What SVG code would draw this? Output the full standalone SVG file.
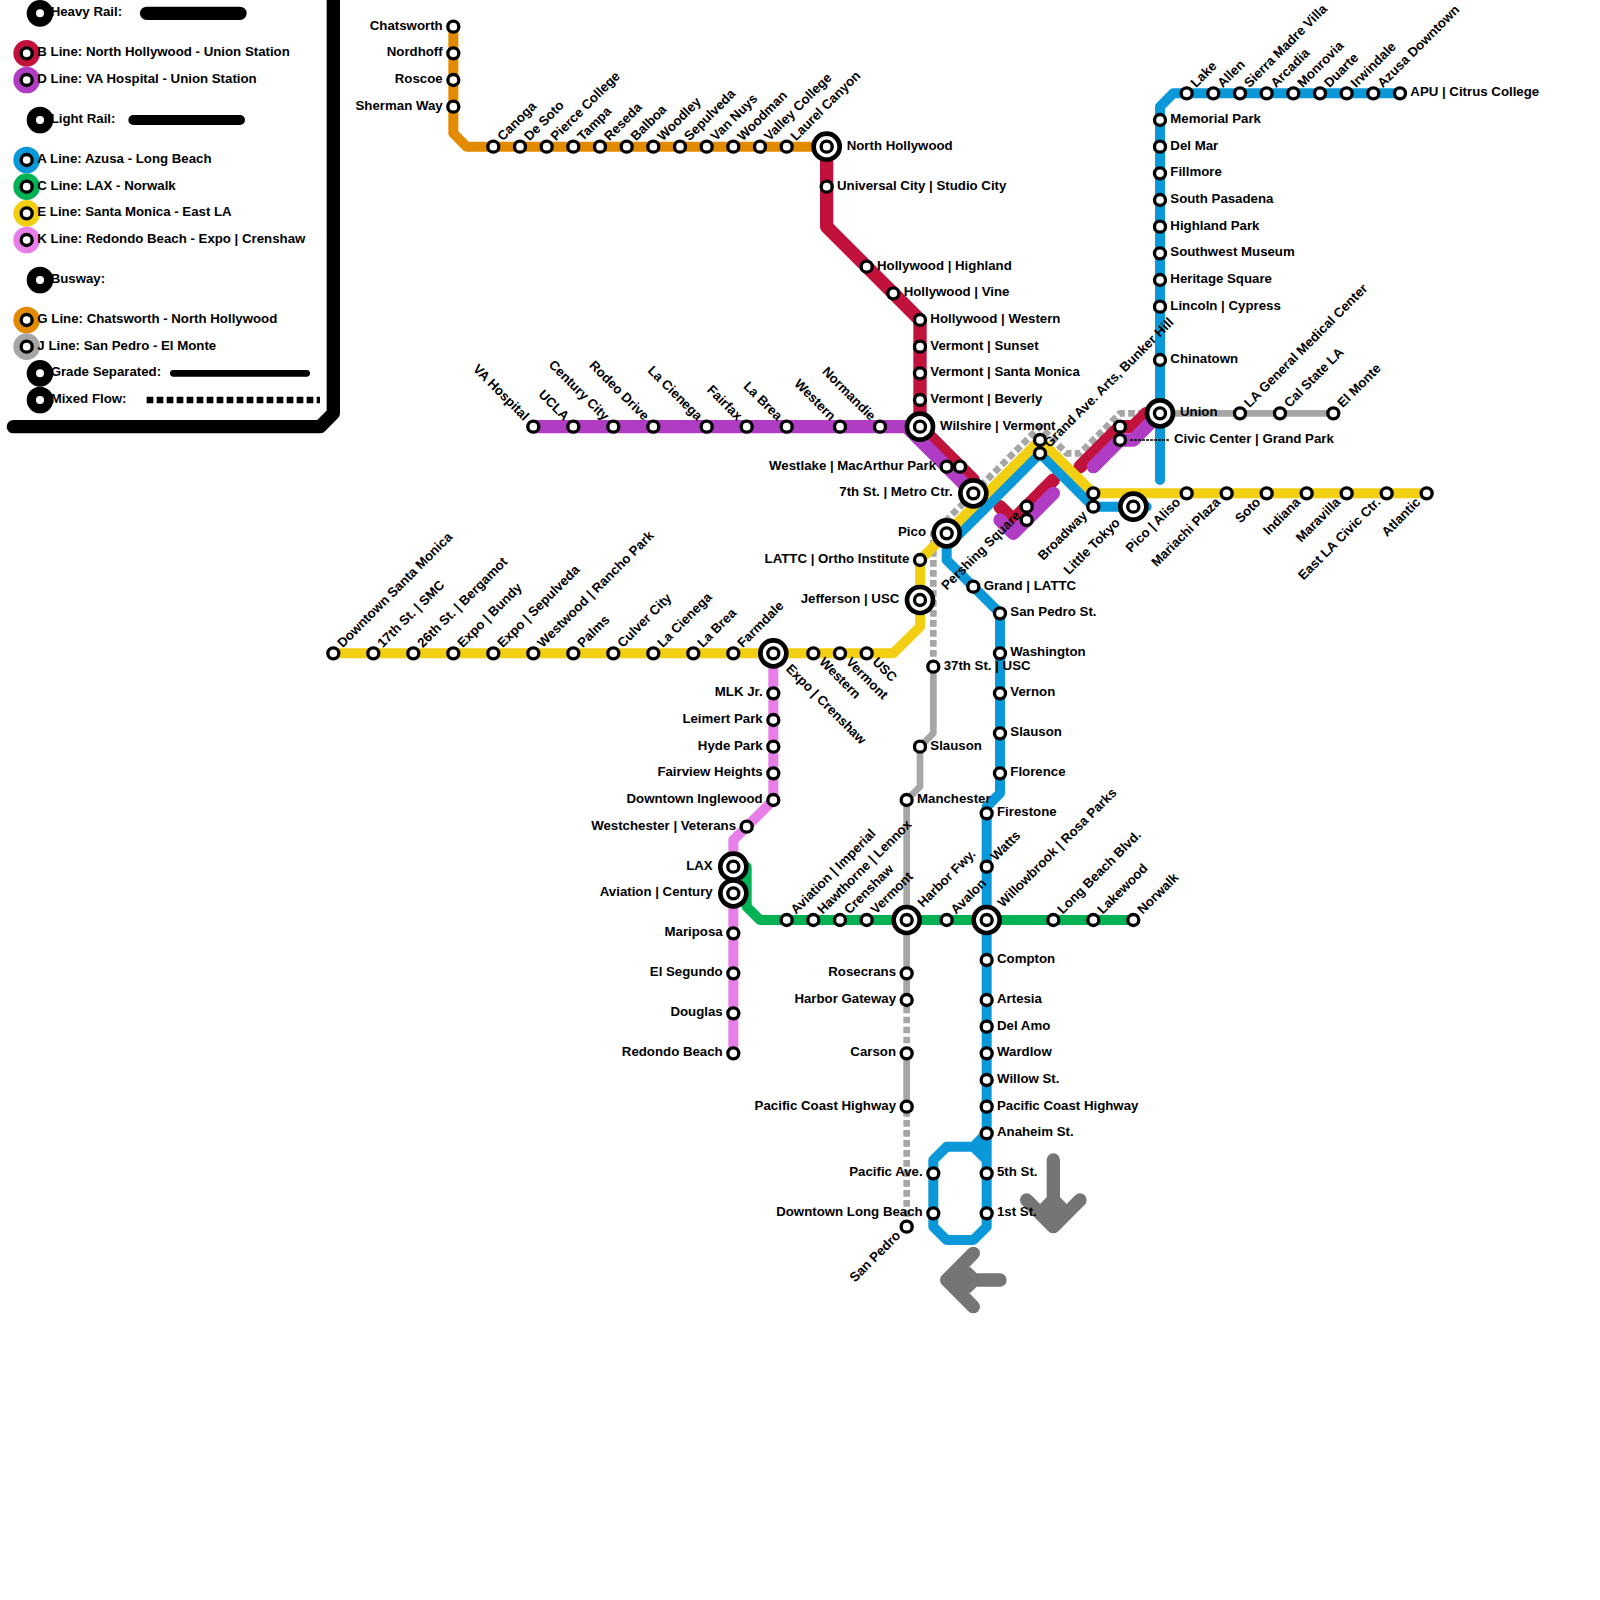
<svg xmlns="http://www.w3.org/2000/svg" width="1600" height="1600" viewBox="0 0 1600 1600">
<style>
text{font-family:"Liberation Sans",Arial,sans-serif;font-size:13.25px;font-weight:700;fill:#000}
.e{text-anchor:end}
.ln{fill:none;stroke-linecap:round;stroke-linejoin:round}
.hv{stroke-width:13.33}.lt{stroke-width:10}.bw{stroke-width:6.67}
.ds{stroke-dasharray:6.67 3.33;stroke-linecap:butt}
.b{stroke:#c1123c}.d{stroke:#b03cc4}.a{stroke:#0a98d9}.c{stroke:#00b254}.y{stroke:#f2cf12}.k{stroke:#e87fe8}.g{stroke:#e38b00}.j{stroke:#a6a6a6}
.ar{stroke:#757575;stroke-width:13.33}
.bk{stroke:#000}
.so{fill:#fff;stroke:#000;stroke-width:3.33}
.so2{fill:#fff;stroke:#000;stroke-width:4.67}
</style>
<defs>
<g id="st"><circle r="5.5" class="so"/></g>
<g id="ix"><circle r="13" class="so2"/><circle r="5.5" class="so"/></g>
<g id="big"><circle r="13.33" fill="#000"/><circle r="4" fill="#fff"/></g>
<g id="sm"><circle r="5.5" class="so"/></g>
</defs>
<g id="legend">
<path class="ln bk hv" d="M13.33 426.67H320L333.33 413.33V-10"/>
<path class="ln bk hv" d="M146.67 13.33H240"/>
<path class="ln bk lt" d="M133.33 120H240"/>
<path class="ln bk bw" d="M173.33 373.33H306.67"/>
<path class="ln bk bw ds" d="M146.67 400H320"/>
<g id="lg-heavy"><use href="#big" x="40" y="13.33"/><text x="50.67" y="16.33">Heavy Rail:</text></g>
<g id="lg-b"><circle cx="26.67" cy="53.33" r="13.33" fill="#c1123c"/><use href="#sm" x="26.67" y="53.33"/><text x="37.33" y="56.33">B Line: North Hollywood - Union Station</text></g>
<g id="lg-d"><circle cx="26.67" cy="80" r="13.33" fill="#b03cc4"/><use href="#sm" x="26.67" y="80"/><text x="37.33" y="83">D Line: VA Hospital - Union Station</text></g>
<g id="lg-light"><use href="#big" x="40" y="120"/><text x="50.67" y="123">Light Rail:</text></g>
<g id="lg-a"><circle cx="26.67" cy="160" r="13.33" fill="#0a98d9"/><use href="#sm" x="26.67" y="160"/><text x="37.33" y="163">A Line: Azusa - Long Beach</text></g>
<g id="lg-c"><circle cx="26.67" cy="186.67" r="13.33" fill="#00b254"/><use href="#sm" x="26.67" y="186.67"/><text x="37.33" y="189.67">C Line: LAX - Norwalk</text></g>
<g id="lg-e"><circle cx="26.67" cy="213.33" r="13.33" fill="#f2cf12"/><use href="#sm" x="26.67" y="213.33"/><text x="37.33" y="216.33">E Line: Santa Monica - East LA</text></g>
<g id="lg-k"><circle cx="26.67" cy="240" r="13.33" fill="#e87fe8"/><use href="#sm" x="26.67" y="240"/><text x="37.33" y="243">K Line: Redondo Beach - Expo | Crenshaw</text></g>
<g id="lg-busway"><use href="#big" x="40" y="280"/><text x="50.67" y="283">Busway:</text></g>
<g id="lg-g"><circle cx="26.67" cy="320" r="13.33" fill="#e38b00"/><use href="#sm" x="26.67" y="320"/><text x="37.33" y="323">G Line: Chatsworth - North Hollywood</text></g>
<g id="lg-j"><circle cx="26.67" cy="346.67" r="13.33" fill="#a6a6a6"/><use href="#sm" x="26.67" y="346.67"/><text x="37.33" y="349.67">J Line: San Pedro - El Monte</text></g>
<g id="lg-grade"><use href="#big" x="40" y="373.33"/><text x="50.67" y="376.33">Grade Separated:</text></g>
<g id="lg-mixed"><use href="#big" x="40" y="400"/><text x="50.67" y="403">Mixed Flow:</text></g>
</g>
<g id="connectors">
<path class="ln bw j" d="M906.67 1106.67V1053.33M906.67 1000V800L920 786.67V746.67L933.33 733.33V666.67M1160 413.33H1333.33"/>
<path class="ln bw j ds" d="M906.67 1226.67V1106.67M906.67 1053.33V1000M933.33 666.67V533.33L1040 426.67L1066.67 453.33H1080L1120 413.33H1160"/>
<path class="ln lt g" d="M453.33 26.67V133.33L466.67 146.67H826.67"/>
<path class="ln hv b" d="M826.67 146.67V226.67L920 320V426.67L973.33 480M1000 506.67L1013.33 520L1053.33 480M1080 466.67L1120 426.67H1133.33L1146.67 413.33"/>
<path class="ln hv d" d="M533.33 426.67H906.67L973.33 493.33M1000 520L1013.33 533.33L1053.33 493.33M1093.33 466.67L1120 440H1133.33L1160 413.33"/>
<path class="ln lt k" d="M773.33 653.33V800L733.33 840V1053.33"/>
<path class="ln lt c" d="M746.67 866.67V906.67L760 920H1133.33"/>
<path class="ln lt a" d="M1400 93.33H1173.33L1160 106.67V480M1146.67 506.67H1093.33L1040 453.33L946.67 546.67V560L1000 613.33V793.33L986.67 806.67V1226.67L973.33 1240H946.67L933.33 1226.67V1160L946.67 1146.67H973.33L986.67 1133.33M973.33 1146.67L986.67 1160"/>
<path fill="#0a98d9" d="M973.33 1146.67L986.67 1133.33V1160Z"/>
<path class="ln lt y" d="M333.33 653.33H893.33L920 626.67V560L1040 440L1093.33 493.33H1426.67"/>
<path class="ln ar" d="M1053.33 1160V1226.67M1026.67 1200L1053.33 1226.67L1080 1200"/>
<path fill="#757575" d="M1040 1204L1046.67 1197.33H1060L1066.67 1204L1053.33 1226.67Z"/>
<path class="ln ar" d="M1000 1280H946.67M973.33 1253.33L946.67 1280L973.33 1306.67"/>
<path fill="#757575" d="M970 1266.67L976.67 1273.33V1286.67L970 1293.33L946.67 1280Z"/>
<path fill="none" stroke="#000" stroke-width="1.33" stroke-dasharray="3 1" d="M1130 440H1170"/>
</g>
<g id="nodes">
<g id="n-chatsworth" transform="translate(453.33 26.67)"><use href="#st"/><text class="e" x="-10.67" y="3">Chatsworth</text></g>
<g id="n-nordhoff" transform="translate(453.33 53.33)"><use href="#st"/><text class="e" x="-10.67" y="3">Nordhoff</text></g>
<g id="n-roscoe" transform="translate(453.33 80)"><use href="#st"/><text class="e" x="-10.67" y="3">Roscoe</text></g>
<g id="n-sherman" transform="translate(453.33 106.67)"><use href="#st"/><text class="e" x="-10.67" y="3">Sherman Way</text></g>
<g id="n-canoga" transform="translate(493.33 146.67)"><use href="#st"/><text x="10.33" y="3" transform="rotate(-45)">Canoga</text></g>
<g id="n-desoto" transform="translate(520 146.67)"><use href="#st"/><text x="10.33" y="3" transform="rotate(-45)">De Soto</text></g>
<g id="n-pierce" transform="translate(546.67 146.67)"><use href="#st"/><text x="10.33" y="3" transform="rotate(-45)">Pierce College</text></g>
<g id="n-tampa" transform="translate(573.33 146.67)"><use href="#st"/><text x="10.33" y="3" transform="rotate(-45)">Tampa</text></g>
<g id="n-reseda" transform="translate(600 146.67)"><use href="#st"/><text x="10.33" y="3" transform="rotate(-45)">Reseda</text></g>
<g id="n-balboa" transform="translate(626.67 146.67)"><use href="#st"/><text x="10.33" y="3" transform="rotate(-45)">Balboa</text></g>
<g id="n-woodley" transform="translate(653.33 146.67)"><use href="#st"/><text x="10.33" y="3" transform="rotate(-45)">Woodley</text></g>
<g id="n-sepulveda" transform="translate(680 146.67)"><use href="#st"/><text x="10.33" y="3" transform="rotate(-45)">Sepulveda</text></g>
<g id="n-vannuys" transform="translate(706.67 146.67)"><use href="#st"/><text x="10.33" y="3" transform="rotate(-45)">Van Nuys</text></g>
<g id="n-woodman" transform="translate(733.33 146.67)"><use href="#st"/><text x="10.33" y="3" transform="rotate(-45)">Woodman</text></g>
<g id="n-valley" transform="translate(760 146.67)"><use href="#st"/><text x="10.33" y="3" transform="rotate(-45)">Valley College</text></g>
<g id="n-laurel" transform="translate(786.67 146.67)"><use href="#st"/><text x="10.33" y="3" transform="rotate(-45)">Laurel Canyon</text></g>
<g id="n-nohollywood" transform="translate(826.67 146.67)"><use href="#ix"/><text x="20" y="3">North Hollywood</text></g>
<g id="n-universal" transform="translate(826.67 186.67)"><use href="#st"/><text x="10.33" y="3">Universal City | Studio City</text></g>
<g id="n-highland" transform="translate(866.67 266.67)"><use href="#st"/><text x="10.33" y="3">Hollywood | Highland</text></g>
<g id="n-vine" transform="translate(893.33 293.33)"><use href="#st"/><text x="10.33" y="3">Hollywood | Vine</text></g>
<g id="n-western" transform="translate(920 320)"><use href="#st"/><text x="10.33" y="3">Hollywood | Western</text></g>
<g id="n-sunset" transform="translate(920 346.67)"><use href="#st"/><text x="10.33" y="3">Vermont | Sunset</text></g>
<g id="n-santamonica" transform="translate(920 373.33)"><use href="#st"/><text x="10.33" y="3">Vermont | Santa Monica</text></g>
<g id="n-beverly" transform="translate(920 400)"><use href="#st"/><text x="10.33" y="3">Vermont | Beverly</text></g>
<g id="n-wilshire" transform="translate(920 426.67)"><use href="#ix"/><text x="20" y="3">Wilshire | Vermont</text></g>
<g id="n-va" transform="translate(533.33 426.67)"><use href="#st"/><text class="e" x="-10.67" y="3" transform="rotate(45)">VA Hospital</text></g>
<g id="n-ucla" transform="translate(573.33 426.67)"><use href="#st"/><text class="e" x="-10.67" y="3" transform="rotate(45)">UCLA</text></g>
<g id="n-century" transform="translate(613.33 426.67)"><use href="#st"/><text class="e" x="-10.67" y="3" transform="rotate(45)">Century City</text></g>
<g id="n-rodeo" transform="translate(653.33 426.67)"><use href="#st"/><text class="e" x="-10.67" y="3" transform="rotate(45)">Rodeo Drive</text></g>
<g id="n-lacienega-d" transform="translate(706.67 426.67)"><use href="#st"/><text class="e" x="-10.67" y="3" transform="rotate(45)">La Cienega</text></g>
<g id="n-fairfax" transform="translate(746.67 426.67)"><use href="#st"/><text class="e" x="-10.67" y="3" transform="rotate(45)">Fairfax</text></g>
<g id="n-labrea-d" transform="translate(786.67 426.67)"><use href="#st"/><text class="e" x="-10.67" y="3" transform="rotate(45)">La Brea</text></g>
<g id="n-western-d" transform="translate(840 426.67)"><use href="#st"/><text class="e" x="-10.67" y="3" transform="rotate(45)">Western</text></g>
<g id="n-normandie" transform="translate(880 426.67)"><use href="#st"/><text class="e" x="-10.67" y="3" transform="rotate(45)">Normandie</text></g>
<g id="n-westlake" transform="translate(946.67 466.67)"><use href="#st"/><text class="e" x="-10.67" y="3">Westlake | MacArthur Park</text></g>
<g id="n-westlake2" transform="translate(960 466.67)"><use href="#st"/></g>
<g id="n-metro" transform="translate(973.33 493.33)"><use href="#ix"/><text class="e" x="-20.67" y="3">7th St. | Metro Ctr.</text></g>
<g id="n-pico" transform="translate(946.67 533.33)"><use href="#ix"/><text class="e" x="-20.67" y="3">Pico</text></g>
<g id="n-lattc" transform="translate(920 560)"><use href="#st"/><text class="e" x="-10.67" y="3">LATTC | Ortho Institute</text></g>
<g id="n-jefferson" transform="translate(920 600)"><use href="#ix"/><text class="e" x="-20.67" y="3">Jefferson | USC</text></g>
<g id="n-pershing" transform="translate(1026.67 506.67)"><use href="#st"/><text class="e" x="-10.67" y="3" transform="rotate(-45)">Pershing Square</text></g>
<g id="n-pershing2" transform="translate(1026.67 520)"><use href="#st"/></g>
<g id="n-grandave" transform="translate(1040 440)"><use href="#st"/></g>
<g id="n-grandave2" transform="translate(1040 453.33)"><use href="#st"/><text x="10.33" y="3" transform="rotate(-45)">Grand Ave. Arts, Bunker Hill</text></g>
<g id="n-civic" transform="translate(1120 426.67)"><use href="#st"/></g>
<g id="n-civic2" transform="translate(1120 440)"><use href="#st"/><text x="54" y="3">Civic Center | Grand Park</text></g>
<g id="n-union" transform="translate(1160 413.33)"><use href="#ix"/><text x="20" y="3">Union</text></g>
<g id="n-broadway" transform="translate(1093.33 493.33)"><use href="#st"/></g>
<g id="n-broadway2" transform="translate(1093.33 506.67)"><use href="#st"/><text class="e" x="-10.67" y="3" transform="rotate(-45)">Broadway</text></g>
<g id="n-littletokyo" transform="translate(1133.33 506.67)"><use href="#ix"/><text class="e" x="-20.67" y="3" transform="rotate(-45)">Little Tokyo</text></g>
<g id="n-aliso" transform="translate(1186.67 493.33)"><use href="#st"/><text class="e" x="-10.67" y="3" transform="rotate(-45)">Pico | Aliso</text></g>
<g id="n-mariachi" transform="translate(1226.67 493.33)"><use href="#st"/><text class="e" x="-10.67" y="3" transform="rotate(-45)">Mariachi Plaza</text></g>
<g id="n-soto" transform="translate(1266.67 493.33)"><use href="#st"/><text class="e" x="-10.67" y="3" transform="rotate(-45)">Soto</text></g>
<g id="n-indiana" transform="translate(1306.67 493.33)"><use href="#st"/><text class="e" x="-10.67" y="3" transform="rotate(-45)">Indiana</text></g>
<g id="n-maravilla" transform="translate(1346.67 493.33)"><use href="#st"/><text class="e" x="-10.67" y="3" transform="rotate(-45)">Maravilla</text></g>
<g id="n-eastla" transform="translate(1386.67 493.33)"><use href="#st"/><text class="e" x="-10.67" y="3" transform="rotate(-45)">East LA Civic Ctr.</text></g>
<g id="n-atlantic" transform="translate(1426.67 493.33)"><use href="#st"/><text class="e" x="-10.67" y="3" transform="rotate(-45)">Atlantic</text></g>
<g id="n-lagen" transform="translate(1240 413.33)"><use href="#st"/><text x="10.33" y="3" transform="rotate(-45)">LA General Medical Center</text></g>
<g id="n-calstate" transform="translate(1280 413.33)"><use href="#st"/><text x="10.33" y="3" transform="rotate(-45)">Cal State LA</text></g>
<g id="n-elmonte" transform="translate(1333.33 413.33)"><use href="#st"/><text x="10.33" y="3" transform="rotate(-45)">El Monte</text></g>
<g id="n-apu" transform="translate(1400 93.33)"><use href="#st"/><text x="10.33" y="3">APU | Citrus College</text></g>
<g id="n-azusadt" transform="translate(1373.33 93.33)"><use href="#st"/><text x="10.33" y="3" transform="rotate(-45)">Azusa Downtown</text></g>
<g id="n-irwindale" transform="translate(1346.67 93.33)"><use href="#st"/><text x="10.33" y="3" transform="rotate(-45)">Irwindale</text></g>
<g id="n-duarte" transform="translate(1320 93.33)"><use href="#st"/><text x="10.33" y="3" transform="rotate(-45)">Duarte</text></g>
<g id="n-monrovia" transform="translate(1293.33 93.33)"><use href="#st"/><text x="10.33" y="3" transform="rotate(-45)">Monrovia</text></g>
<g id="n-arcadia" transform="translate(1266.67 93.33)"><use href="#st"/><text x="10.33" y="3" transform="rotate(-45)">Arcadia</text></g>
<g id="n-sierra" transform="translate(1240 93.33)"><use href="#st"/><text x="10.33" y="3" transform="rotate(-45)">Sierra Madre Villa</text></g>
<g id="n-allen" transform="translate(1213.33 93.33)"><use href="#st"/><text x="10.33" y="3" transform="rotate(-45)">Allen</text></g>
<g id="n-lake" transform="translate(1186.67 93.33)"><use href="#st"/><text x="10.33" y="3" transform="rotate(-45)">Lake</text></g>
<g id="n-memorial" transform="translate(1160 120)"><use href="#st"/><text x="10.33" y="3">Memorial Park</text></g>
<g id="n-delmar" transform="translate(1160 146.67)"><use href="#st"/><text x="10.33" y="3">Del Mar</text></g>
<g id="n-fillmore" transform="translate(1160 173.33)"><use href="#st"/><text x="10.33" y="3">Fillmore</text></g>
<g id="n-southpas" transform="translate(1160 200)"><use href="#st"/><text x="10.33" y="3">South Pasadena</text></g>
<g id="n-highlandpk" transform="translate(1160 226.67)"><use href="#st"/><text x="10.33" y="3">Highland Park</text></g>
<g id="n-swmuseum" transform="translate(1160 253.33)"><use href="#st"/><text x="10.33" y="3">Southwest Museum</text></g>
<g id="n-heritage" transform="translate(1160 280)"><use href="#st"/><text x="10.33" y="3">Heritage Square</text></g>
<g id="n-lincoln" transform="translate(1160 306.67)"><use href="#st"/><text x="10.33" y="3">Lincoln | Cypress</text></g>
<g id="n-chinatown" transform="translate(1160 360)"><use href="#st"/><text x="10.33" y="3">Chinatown</text></g>
<g id="n-dtsm" transform="translate(333.33 653.33)"><use href="#st"/><text x="10.33" y="3" transform="rotate(-45)">Downtown Santa Monica</text></g>
<g id="n-17th" transform="translate(373.33 653.33)"><use href="#st"/><text x="10.33" y="3" transform="rotate(-45)">17th St. | SMC</text></g>
<g id="n-26th" transform="translate(413.33 653.33)"><use href="#st"/><text x="10.33" y="3" transform="rotate(-45)">26th St. | Bergamot</text></g>
<g id="n-bundy" transform="translate(453.33 653.33)"><use href="#st"/><text x="10.33" y="3" transform="rotate(-45)">Expo | Bundy</text></g>
<g id="n-exposep" transform="translate(493.33 653.33)"><use href="#st"/><text x="10.33" y="3" transform="rotate(-45)">Expo | Sepulveda</text></g>
<g id="n-westwood" transform="translate(533.33 653.33)"><use href="#st"/><text x="10.33" y="3" transform="rotate(-45)">Westwood | Rancho Park</text></g>
<g id="n-palms" transform="translate(573.33 653.33)"><use href="#st"/><text x="10.33" y="3" transform="rotate(-45)">Palms</text></g>
<g id="n-culver" transform="translate(613.33 653.33)"><use href="#st"/><text x="10.33" y="3" transform="rotate(-45)">Culver City</text></g>
<g id="n-lacienega-e" transform="translate(653.33 653.33)"><use href="#st"/><text x="10.33" y="3" transform="rotate(-45)">La Cienega</text></g>
<g id="n-labrea-e" transform="translate(693.33 653.33)"><use href="#st"/><text x="10.33" y="3" transform="rotate(-45)">La Brea</text></g>
<g id="n-farmdale" transform="translate(733.33 653.33)"><use href="#st"/><text x="10.33" y="3" transform="rotate(-45)">Farmdale</text></g>
<g id="n-expocrenshaw" transform="translate(773.33 653.33)"><use href="#ix"/><text x="20" y="3" transform="rotate(45)">Expo | Crenshaw</text></g>
<g id="n-western-e" transform="translate(813.33 653.33)"><use href="#st"/><text x="10.33" y="3" transform="rotate(45)">Western</text></g>
<g id="n-vermont-e" transform="translate(840 653.33)"><use href="#st"/><text x="10.33" y="3" transform="rotate(45)">Vermont</text></g>
<g id="n-usc" transform="translate(866.67 653.33)"><use href="#st"/><text x="10.33" y="3" transform="rotate(45)">USC</text></g>
<g id="n-mlk" transform="translate(773.33 693.33)"><use href="#st"/><text class="e" x="-10.67" y="3">MLK Jr.</text></g>
<g id="n-leimert" transform="translate(773.33 720)"><use href="#st"/><text class="e" x="-10.67" y="3">Leimert Park</text></g>
<g id="n-hyde" transform="translate(773.33 746.67)"><use href="#st"/><text class="e" x="-10.67" y="3">Hyde Park</text></g>
<g id="n-fairview" transform="translate(773.33 773.33)"><use href="#st"/><text class="e" x="-10.67" y="3">Fairview Heights</text></g>
<g id="n-inglewood" transform="translate(773.33 800)"><use href="#st"/><text class="e" x="-10.67" y="3">Downtown Inglewood</text></g>
<g id="n-westchester" transform="translate(746.67 826.67)"><use href="#st"/><text class="e" x="-10.67" y="3">Westchester | Veterans</text></g>
<g id="n-lax" transform="translate(733.33 866.67)"><use href="#ix"/><text class="e" x="-20.67" y="3">LAX</text></g>
<g id="n-avcentury" transform="translate(733.33 893.33)"><use href="#ix"/><text class="e" x="-20.67" y="3">Aviation | Century</text></g>
<g id="n-mariposa" transform="translate(733.33 933.33)"><use href="#st"/><text class="e" x="-10.67" y="3">Mariposa</text></g>
<g id="n-elsegundo" transform="translate(733.33 973.33)"><use href="#st"/><text class="e" x="-10.67" y="3">El Segundo</text></g>
<g id="n-douglas" transform="translate(733.33 1013.33)"><use href="#st"/><text class="e" x="-10.67" y="3">Douglas</text></g>
<g id="n-redondo" transform="translate(733.33 1053.33)"><use href="#st"/><text class="e" x="-10.67" y="3">Redondo Beach</text></g>
<g id="n-avimperial" transform="translate(786.67 920)"><use href="#st"/><text x="10.33" y="3" transform="rotate(-45)">Aviation | Imperial</text></g>
<g id="n-hawthorne" transform="translate(813.33 920)"><use href="#st"/><text x="10.33" y="3" transform="rotate(-45)">Hawthorne | Lennox</text></g>
<g id="n-crenshaw" transform="translate(840 920)"><use href="#st"/><text x="10.33" y="3" transform="rotate(-45)">Crenshaw</text></g>
<g id="n-vermont-c" transform="translate(866.67 920)"><use href="#st"/><text x="10.33" y="3" transform="rotate(-45)">Vermont</text></g>
<g id="n-harbor" transform="translate(906.67 920)"><use href="#ix"/><text x="20" y="3" transform="rotate(-45)">Harbor Fwy.</text></g>
<g id="n-avalon" transform="translate(946.67 920)"><use href="#st"/><text x="10.33" y="3" transform="rotate(-45)">Avalon</text></g>
<g id="n-willowbrook" transform="translate(986.67 920)"><use href="#ix"/><text x="20" y="3" transform="rotate(-45)">Willowbrook | Rosa Parks</text></g>
<g id="n-lbblvd" transform="translate(1053.33 920)"><use href="#st"/><text x="10.33" y="3" transform="rotate(-45)">Long Beach Blvd.</text></g>
<g id="n-lakewood" transform="translate(1093.33 920)"><use href="#st"/><text x="10.33" y="3" transform="rotate(-45)">Lakewood</text></g>
<g id="n-norwalk" transform="translate(1133.33 920)"><use href="#st"/><text x="10.33" y="3" transform="rotate(-45)">Norwalk</text></g>
<g id="n-37th" transform="translate(933.33 666.67)"><use href="#st"/><text x="10.33" y="3">37th St. | USC</text></g>
<g id="n-slausonj" transform="translate(920 746.67)"><use href="#st"/><text x="10.33" y="3">Slauson</text></g>
<g id="n-manchester" transform="translate(906.67 800)"><use href="#st"/><text x="10.33" y="3">Manchester</text></g>
<g id="n-rosecrans" transform="translate(906.67 973.33)"><use href="#st"/><text class="e" x="-10.67" y="3">Rosecrans</text></g>
<g id="n-hgateway" transform="translate(906.67 1000)"><use href="#st"/><text class="e" x="-10.67" y="3">Harbor Gateway</text></g>
<g id="n-carson" transform="translate(906.67 1053.33)"><use href="#st"/><text class="e" x="-10.67" y="3">Carson</text></g>
<g id="n-pchj" transform="translate(906.67 1106.67)"><use href="#st"/><text class="e" x="-10.67" y="3">Pacific Coast Highway</text></g>
<g id="n-sanpedro" transform="translate(906.67 1226.67)"><use href="#st"/><text class="e" x="-10.67" y="3" transform="rotate(-45)">San Pedro</text></g>
<g id="n-grandlattc" transform="translate(973.33 586.67)"><use href="#st"/><text x="10.33" y="3">Grand | LATTC</text></g>
<g id="n-sanpedrost" transform="translate(1000 613.33)"><use href="#st"/><text x="10.33" y="3">San Pedro St.</text></g>
<g id="n-washington" transform="translate(1000 653.33)"><use href="#st"/><text x="10.33" y="3">Washington</text></g>
<g id="n-vernon" transform="translate(1000 693.33)"><use href="#st"/><text x="10.33" y="3">Vernon</text></g>
<g id="n-slausona" transform="translate(1000 733.33)"><use href="#st"/><text x="10.33" y="3">Slauson</text></g>
<g id="n-florence" transform="translate(1000 773.33)"><use href="#st"/><text x="10.33" y="3">Florence</text></g>
<g id="n-firestone" transform="translate(986.67 813.33)"><use href="#st"/><text x="10.33" y="3">Firestone</text></g>
<g id="n-watts" transform="translate(986.67 866.67)"><use href="#st"/><text x="10.33" y="3" transform="rotate(-45)">Watts</text></g>
<g id="n-compton" transform="translate(986.67 960)"><use href="#st"/><text x="10.33" y="3">Compton</text></g>
<g id="n-artesia" transform="translate(986.67 1000)"><use href="#st"/><text x="10.33" y="3">Artesia</text></g>
<g id="n-delamo" transform="translate(986.67 1026.67)"><use href="#st"/><text x="10.33" y="3">Del Amo</text></g>
<g id="n-wardlow" transform="translate(986.67 1053.33)"><use href="#st"/><text x="10.33" y="3">Wardlow</text></g>
<g id="n-willow" transform="translate(986.67 1080)"><use href="#st"/><text x="10.33" y="3">Willow St.</text></g>
<g id="n-pcha" transform="translate(986.67 1106.67)"><use href="#st"/><text x="10.33" y="3">Pacific Coast Highway</text></g>
<g id="n-anaheim" transform="translate(986.67 1133.33)"><use href="#st"/><text x="10.33" y="3">Anaheim St.</text></g>
<g id="n-5th" transform="translate(986.67 1173.33)"><use href="#st"/><text x="10.33" y="3">5th St.</text></g>
<g id="n-1st" transform="translate(986.67 1213.33)"><use href="#st"/><text x="10.33" y="3">1st St.</text></g>
<g id="n-pacificave" transform="translate(933.33 1173.33)"><use href="#st"/><text class="e" x="-10.67" y="3">Pacific Ave.</text></g>
<g id="n-dtlb" transform="translate(933.33 1213.33)"><use href="#st"/><text class="e" x="-10.67" y="3">Downtown Long Beach</text></g>
</g>
</svg>
